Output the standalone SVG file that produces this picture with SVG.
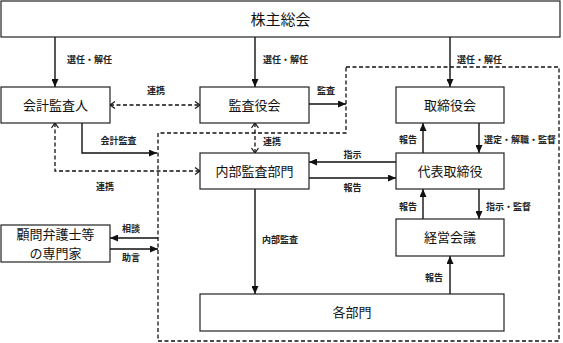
<svg xmlns="http://www.w3.org/2000/svg" width="563" height="343" viewBox="0 0 563 343">
<style>
.box{fill:#fff;stroke:#222;stroke-width:1.2}
.lbl{font-family:"Noto Sans CJK JP","Noto Sans",sans-serif;font-size:13px;fill:#111;text-anchor:middle}
.big{font-size:15px}
.sm{font-family:"Noto Sans CJK JP","Noto Sans",sans-serif;font-size:9px;font-weight:bold;fill:#222}
.mid{text-anchor:middle}
.ar{fill:none;stroke:#111;stroke-width:1.4;marker-end:url(#fa)}
.da{fill:none;stroke:#111;stroke-width:1.3;stroke-dasharray:4 2.5;marker-start:url(#oa);marker-end:url(#oa)}
.frame{fill:none;stroke:#111;stroke-width:1.3;stroke-dasharray:4 2.5}
</style>
<defs>
<marker id="fa" markerUnits="userSpaceOnUse" viewBox="0 0 8 7" refX="8" refY="3.5" markerWidth="8" markerHeight="7" orient="auto"><path d="M0,0 L8,3.5 L0,7 z" fill="#111"/></marker>
<marker id="oa" markerUnits="userSpaceOnUse" viewBox="0 0 7 8" refX="6" refY="4" markerWidth="7" markerHeight="8" orient="auto-start-reverse"><path d="M1,0.5 L6,4 L1,7.5" fill="none" stroke="#111" stroke-width="1.2"/></marker>
</defs>
<rect width="563" height="343" fill="#fff"/>
<path class="frame" d="M346,67 H559 V341 H158 V133 H346 Z"/>
<g id="connectors">
<path class="ar" d="M55,37 V87"/>
<path class="ar" d="M255,37 V87"/>
<path class="ar" d="M450,37 V87"/>
<path class="ar" d="M309,104 H346"/>
<path class="da" d="M110,105 H200"/>
<path class="ar" d="M82,123 V153 H157"/>
<path class="da" d="M55,123 V171 H200"/>
<path class="da" d="M255,123 V153"/>
<path class="ar" d="M396,162 H309"/>
<path class="ar" d="M309,178 H396"/>
<path class="ar" d="M423,153 V123"/>
<path class="ar" d="M479,123 V153"/>
<path class="ar" d="M423,219 V189"/>
<path class="ar" d="M479,189 V219"/>
<path class="ar" d="M450,294 V256"/>
<path class="ar" d="M255,189 V294"/>
<path class="ar" d="M158,238 H110"/>
<path class="ar" d="M110,249 H158"/>
<text class="sm" x="67" y="62.5">選任・解任</text>
<text class="sm" x="263" y="62.5">選任・解任</text>
<text class="sm" x="457" y="62.5">選任・解任</text>
<text class="sm mid" x="156" y="94">連携</text>
<text class="sm mid" x="326" y="94">監査</text>
<text class="sm mid" x="118.5" y="143.5">会計監査</text>
<text class="sm" x="263" y="145">連携</text>
<text class="sm mid" x="105" y="189.5">連携</text>
<text class="sm mid" x="352.5" y="157.7">指示</text>
<text class="sm mid" x="352.5" y="190.7">報告</text>
<text class="sm mid" x="408" y="142.7">報告</text>
<text class="sm" x="484" y="142.7">選定・解職・監督</text>
<text class="sm mid" x="408" y="210">報告</text>
<text class="sm" x="486" y="210">指示・監督</text>
<text class="sm mid" x="434" y="280.7">報告</text>
<text class="sm" x="262" y="242.5">内部監査</text>
<text class="sm mid" x="131" y="231.7">相談</text>
<text class="sm mid" x="131" y="260.7">助言</text>
</g>
<g id="shareholders"><rect class="box" x="1" y="1" width="559" height="36"/><text class="lbl big" x="280.5" y="24.5">株主総会</text></g>
<g id="auditor"><rect class="box" x="1" y="87" width="109" height="36"/><text class="lbl" x="55.5" y="109.5">会計監査人</text></g>
<g id="audit-board"><rect class="box" x="200" y="87" width="109" height="36"/><text class="lbl" x="254.5" y="109.5">監査役会</text></g>
<g id="board"><rect class="box" x="396" y="87" width="108" height="36"/><text class="lbl" x="450" y="109.5">取締役会</text></g>
<g id="internal-audit"><rect class="box" x="200" y="153" width="109" height="36"/><text class="lbl" x="254.5" y="175.5">内部監査部門</text></g>
<g id="ceo"><rect class="box" x="396" y="153" width="108" height="36"/><text class="lbl" x="450" y="175.5">代表取締役</text></g>
<g id="management"><rect class="box" x="396" y="219" width="108" height="37"/><text class="lbl" x="450" y="242">経営会議</text></g>
<g id="departments"><rect class="box" x="200" y="294" width="304" height="37"/><text class="lbl" x="352" y="317">各部門</text></g>
<g id="advisors"><rect class="box" x="1" y="225" width="109" height="37"/><text class="lbl" x="55.5" y="239">顧問弁護士等</text><text class="lbl" x="55.5" y="258">の専門家</text></g>
</svg>
